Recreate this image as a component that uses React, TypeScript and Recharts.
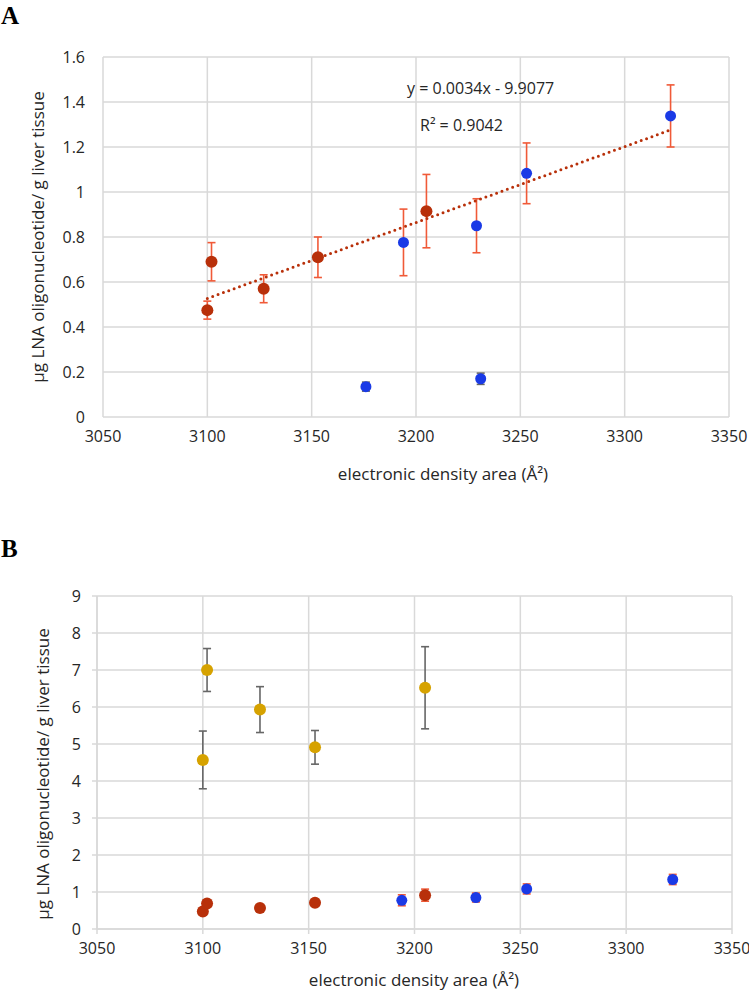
import React from 'react';
import {
  ScatterChart,
  Scatter,
  XAxis,
  YAxis,
  CartesianGrid,
  ErrorBar,
} from 'recharts';

// measured values, panel A and B share the red and blue groups
const redX = [3100, 3102, 3127, 3153, 3205];
const redY = [0.475, 0.69, 0.57, 0.71, 0.915];
const redErr = [0.04, 0.085, 0.062, 0.09, 0.163];

const blueX = [3194, 3229, 3253, 3322];
const blueY = [0.776, 0.85, 1.083, 1.338];
const blueErr = [0.148, 0.12, 0.135, 0.138];

const blueLowX = [3176, 3231];
const blueLowY = [0.135, 0.17];
const blueLowErr = [0.02, 0.025];

const goldX = [3100, 3102, 3127, 3153, 3205];
const goldY = [4.57, 7.0, 5.93, 4.91, 6.52];
const goldErr = [0.78, 0.58, 0.62, 0.455, 1.11];

const trendX = [3100, 3322];
const trendY = [0.527, 1.276];

const xTicks = [3050, 3100, 3150, 3200, 3250, 3300, 3350];
const yTicksA = [0, 0.2, 0.4, 0.6, 0.8, 1, 1.2, 1.4, 1.6];
const yTicksB = [0, 1, 2, 3, 4, 5, 6, 7, 8, 9];

const equation = 'y = 0.0034x - 9.9077';
const rSquared = 'R² = 0.9042';
const xTitle = 'electronic density area (Å²)';
const yTitle = 'µg LNA oligonucleotide/ g liver tissue';

const zip = (xs: number[], ys: number[], errs?: number[]) =>
  xs.map((x, i) => ({ x, y: ys[i], err: errs ? errs[i] : 0 }));

const red = zip(redX, redY, redErr);
const blue = zip(blueX, blueY, blueErr);
const blueLow = zip(blueLowX, blueLowY, blueLowErr);
const gold = zip(goldX, goldY, goldErr);
const trend = zip(trendX, trendY);

const RED = '#b8300a';
const BLUE = '#1a3ae6';
const GOLD = '#d6a200';
const ERR_ORANGE = '#f05a38';
const ERR_GREY = '#666666';
const GRID = '#d9d9d9';
const FONT = '"Open Sans", sans-serif';

const dot = (fill: string, r: number) => (props: any) =>
  <circle cx={props.cx} cy={props.cy} r={r} fill={fill} />;

const noDot = () => <g />;

const tickStyle = { fill: '#262626', fontSize: 16, fontFamily: FONT };

const textStyle: React.CSSProperties = {
  position: 'absolute',
  fontFamily: FONT,
  fontSize: 17,
  color: '#262626',
  whiteSpace: 'nowrap',
};

const panelLetter: React.CSSProperties = {
  position: 'absolute',
  fontFamily: '"Liberation Serif", serif',
  fontWeight: 'bold',
  fontSize: 25,
  lineHeight: 1,
};

export default function App() {
  return (
    <div style={{ position: 'absolute', left: 0, top: 0, width: 749, height: 998, background: '#fff' }}>
      <div style={{ ...panelLetter, left: 1, top: 3 }}>A</div>
      <div style={{ ...panelLetter, left: 1, top: 536 }}>B</div>

      {/* panel A */}
      <div style={{ position: 'absolute', left: 0, top: 0 }}>
        <ScatterChart width={749} height={500} margin={{ top: 57, right: 20, bottom: 53, left: 20 }}>
          <CartesianGrid stroke={GRID} strokeWidth={1.5} />
          <XAxis
            type="number"
            dataKey="x"
            domain={[3050, 3350]}
            ticks={xTicks}
            height={30}
            axisLine={false}
            tickLine={false}
            tickMargin={8}
            tick={tickStyle}
          />
          <YAxis
            type="number"
            dataKey="y"
            domain={[0, 1.6]}
            ticks={yTicksA}
            width={83}
            axisLine={false}
            tickLine={false}
            tickMargin={12}
            tick={tickStyle}
          />
          <Scatter data={trend} shape={noDot} isAnimationActive={false}
            line={{ stroke: RED, strokeWidth: 3, strokeDasharray: '0 5.7', strokeLinecap: 'round' }} />
          <Scatter data={red} shape={dot(RED, 6)} isAnimationActive={false}>
            <ErrorBar dataKey="err" direction="y" stroke={ERR_ORANGE} strokeWidth={1.6} width={4} />
          </Scatter>
          <Scatter data={blue} shape={dot(BLUE, 5.5)} isAnimationActive={false}>
            <ErrorBar dataKey="err" direction="y" stroke={ERR_ORANGE} strokeWidth={1.6} width={4} />
          </Scatter>
          <Scatter data={blueLow} shape={dot(BLUE, 5.5)} isAnimationActive={false}>
            <ErrorBar dataKey="err" direction="y" stroke={ERR_GREY} strokeWidth={1.6} width={4} />
          </Scatter>
        </ScatterChart>
      </div>
      <div style={{ ...textStyle, fontSize: 16, left: 407, top: 77 }}>{equation}</div>
      <div style={{ ...textStyle, fontSize: 16, left: 420, top: 114 }}>{rSquared}</div>
      <div style={{ ...textStyle, left: 443, top: 473, transform: 'translate(-50%, -50%)' }}>{xTitle}</div>
      <div style={{ ...textStyle, left: 37, top: 237, transform: 'translate(-50%, -50%) rotate(-90deg)' }}>{yTitle}</div>

      {/* panel B */}
      <div style={{ position: 'absolute', left: 0, top: 500 }}>
        <ScatterChart width={749} height={498} margin={{ top: 96, right: 17, bottom: 39, left: 14 }}>
          <CartesianGrid stroke={GRID} strokeWidth={1.5} />
          <XAxis
            type="number"
            dataKey="x"
            domain={[3050, 3350]}
            ticks={xTicks}
            height={30}
            axisLine={{ stroke: GRID, strokeWidth: 1.5 }}
            tickLine={{ stroke: GRID, strokeWidth: 1.5 }}
            tickSize={5}
            tickMargin={9}
            tick={tickStyle}
          />
          <YAxis
            type="number"
            dataKey="y"
            domain={[0, 9]}
            ticks={yTicksB}
            width={83}
            axisLine={{ stroke: GRID, strokeWidth: 1.5 }}
            tickLine={{ stroke: GRID, strokeWidth: 1.5 }}
            tickSize={5}
            tickMargin={11}
            tick={tickStyle}
          />
          <Scatter data={gold} shape={dot(GOLD, 6)} isAnimationActive={false}>
            <ErrorBar dataKey="err" direction="y" stroke={ERR_GREY} strokeWidth={1.6} width={4} />
          </Scatter>
          <Scatter data={red} shape={dot(RED, 6)} isAnimationActive={false}>
            <ErrorBar dataKey="err" direction="y" stroke={ERR_ORANGE} strokeWidth={1.6} width={4} />
          </Scatter>
          <Scatter data={blue} shape={dot(BLUE, 5.5)} isAnimationActive={false}>
            <ErrorBar dataKey="err" direction="y" stroke={ERR_ORANGE} strokeWidth={1.6} width={4} />
          </Scatter>
        </ScatterChart>
      </div>
      <div style={{ ...textStyle, left: 414, top: 979, transform: 'translate(-50%, -50%)' }}>{xTitle}</div>
      <div style={{ ...textStyle, left: 42, top: 774, transform: 'translate(-50%, -50%) rotate(-90deg)' }}>{yTitle}</div>
    </div>
  );
}
